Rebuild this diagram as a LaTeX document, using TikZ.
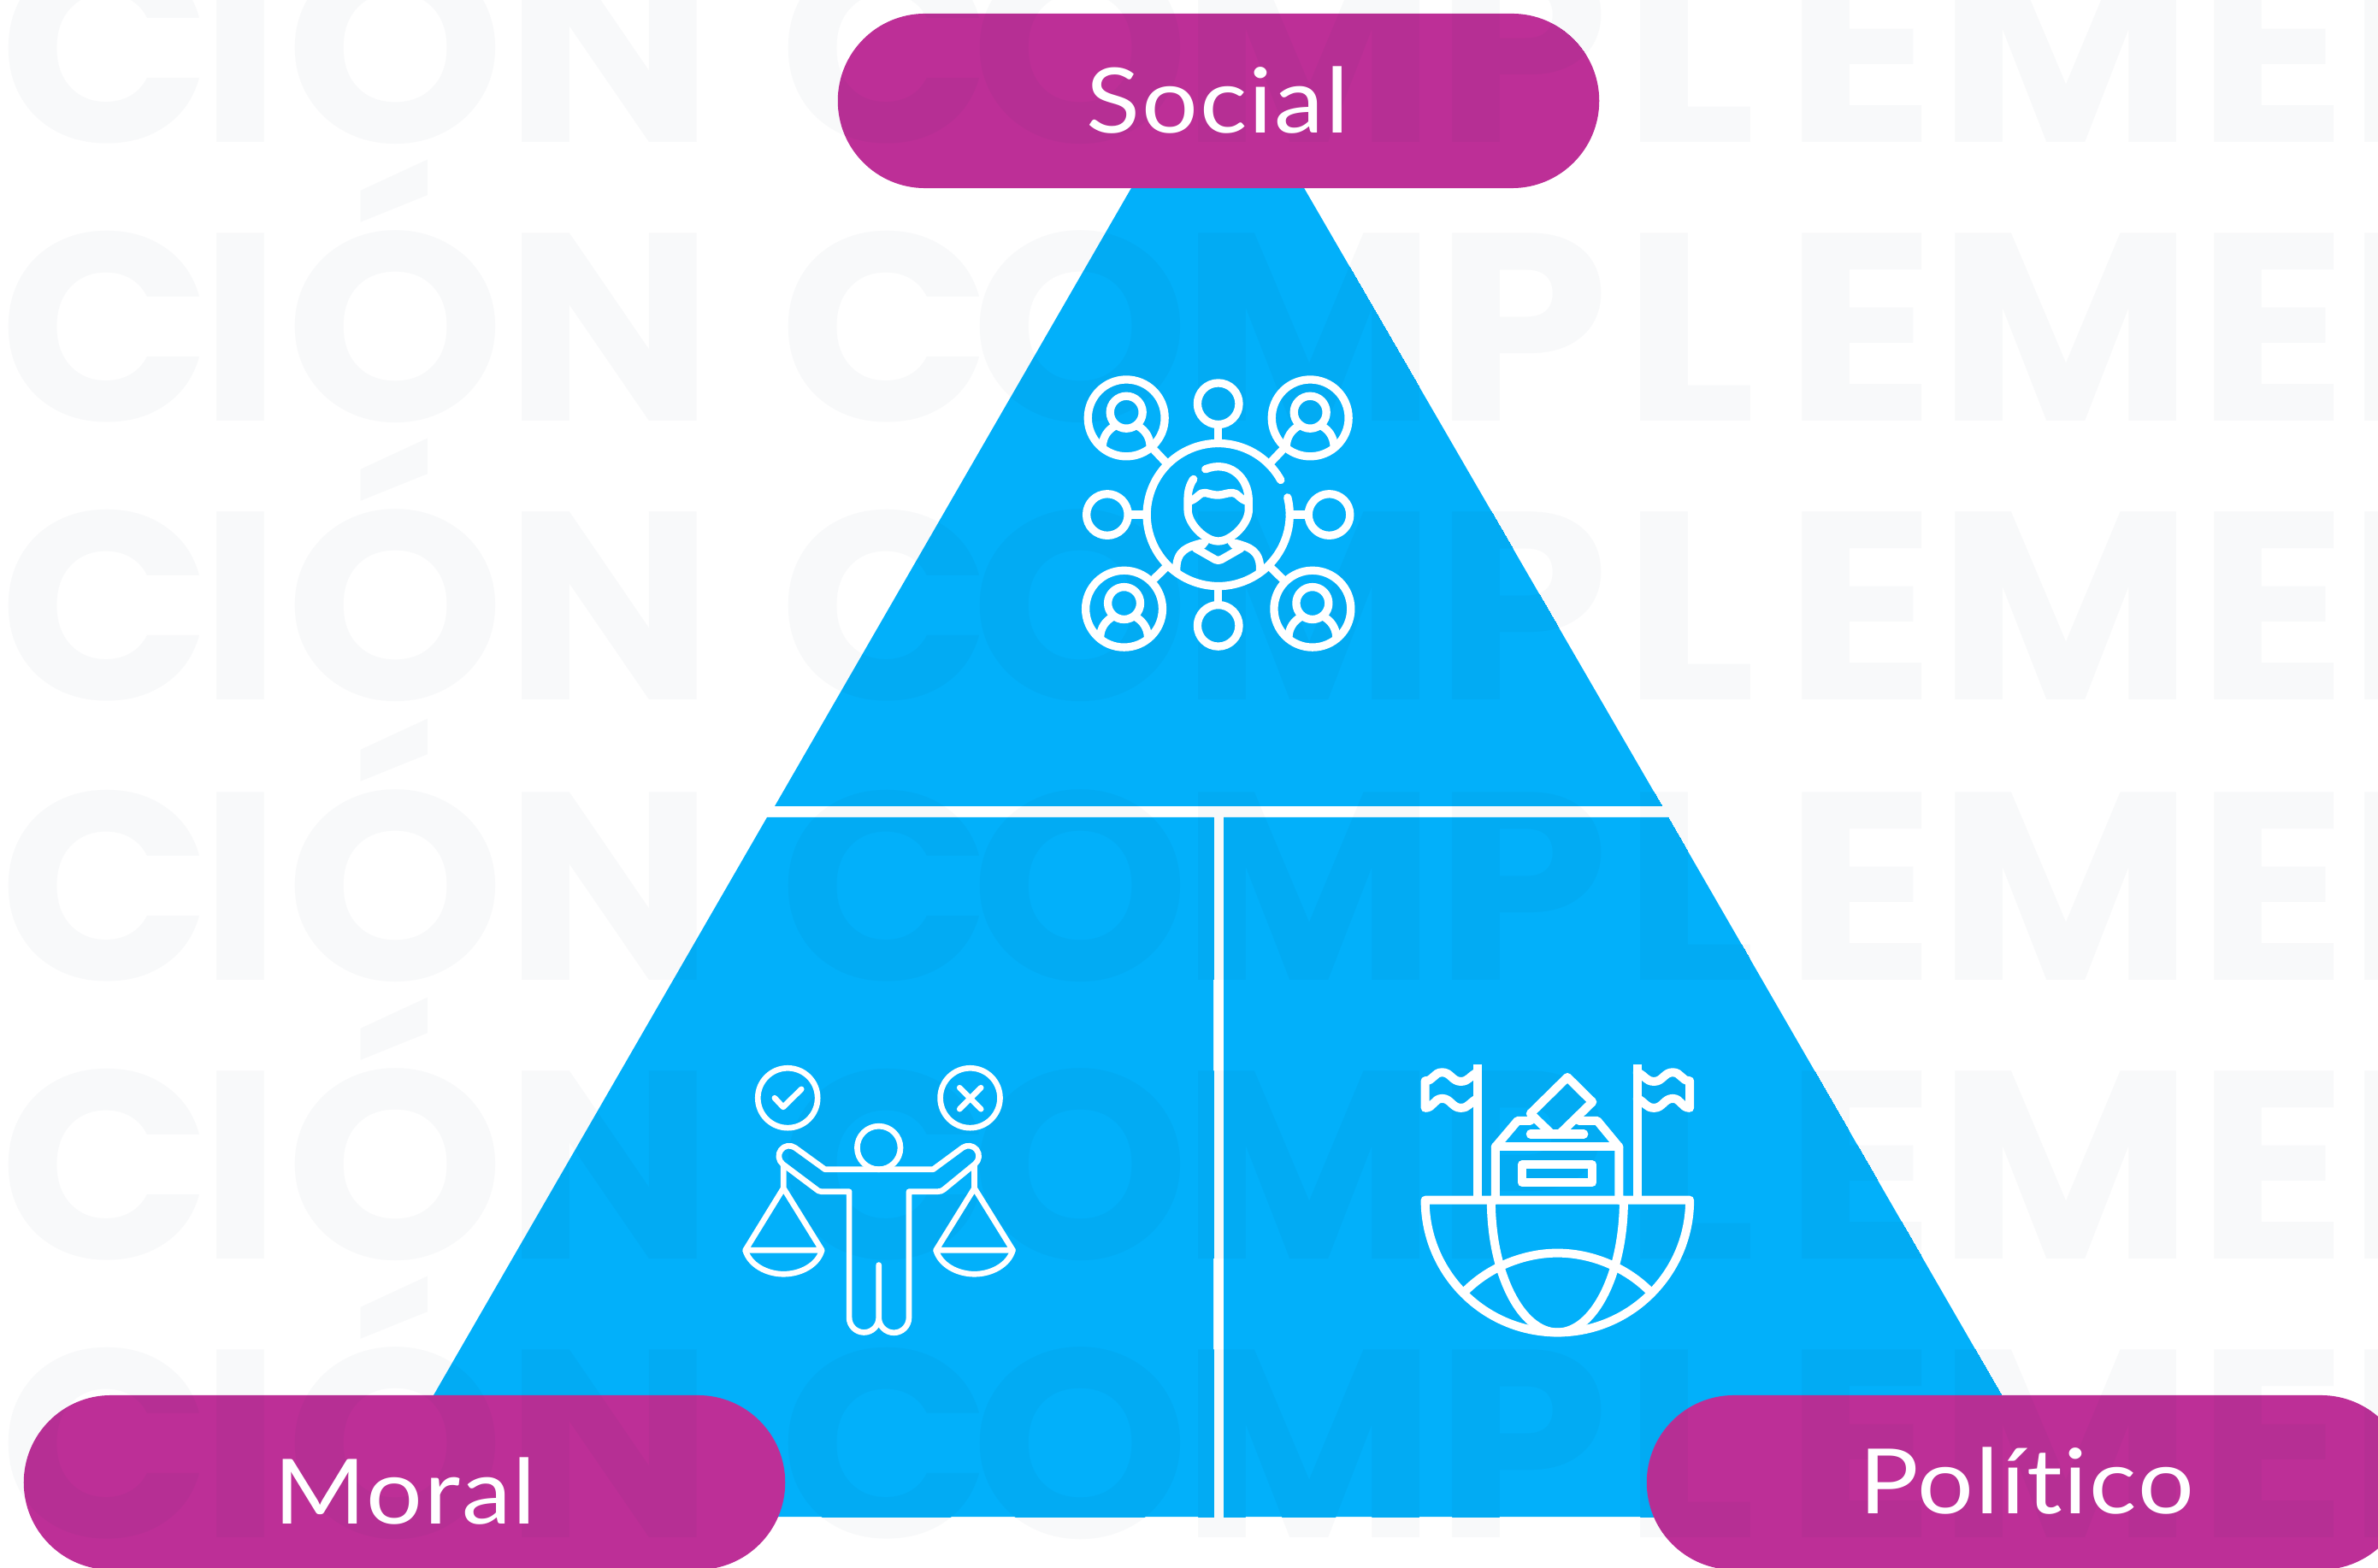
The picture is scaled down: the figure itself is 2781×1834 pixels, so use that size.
\documentclass[tikz,border=0pt]{standalone}
\usepackage{fontspec}
\usetikzlibrary{shapes.misc}
\newfontfamily\markfont{Poppins}[UprightFont=* Bold,FakeStretch=1.04]
\newfontfamily\pillfont{Lato}[LetterSpace=2,FakeStretch=1.1,Ligatures=NoCommon]
\definecolor{pageGray}{HTML}{F8F9FA}
\definecolor{skyBlue}{HTML}{02B0FA}
\definecolor{skyDark}{HTML}{02ABF3}
\definecolor{pillBase}{HTML}{BD2F97}
\definecolor{pillDark}{HTML}{B62F94}

\tikzset{
  pill/.style={rounded rectangle, minimum width=8.9cm, minimum height=2.04cm, inner sep=0pt, fill=pillBase},
  pilltext/.style={anchor=base, text=white, inner sep=0pt, font=\pillfont\fontsize{30}{30}\selectfont},
  marktext/.style={anchor=base west, inner sep=0pt, font=\markfont\fontsize{89}{89}\selectfont},
  iconline/.style={draw=white, line cap=round, line join=round},
  zoomed/.style={x=0.003333cm, y=-0.003333cm}
}
\newcommand{\markline}{RC\kern-4ptI\kern1.26ptÓN \kern2.27ptC\kern-7.06ptO\kern-2.77ptM\kern-.5ptP\kern4.8ptL\kern9.6ptE\kern.76ptM\kern1.26ptEN}
\newcommand{\markrows}[2]{
  \foreach \r/\ypos in {1/167,2/493,3/819,4/1146,5/1472,6/1798}
    \node[marktext, text=#2] (#1\r) at (-213,\ypos) {\markline};
}

\begin{document}
\begin{tikzpicture}[x=0.01cm, y=-0.01cm]
  \useasboundingbox (0,0) rectangle (2781,1834);
  \clip (0,0) rectangle (2781,1834);
  \fill[white] (0,0) rectangle (2781,1834);
  \markrows{back}{pageGray}

  % triangle
  \fill[skyBlue] (1334.5,200) -- (1513.5,200) -- (1944,943) -- (906,943) -- cycle;
  \fill[skyBlue] (897,956) -- (1419,956) -- (1419,1774) -- (425,1774) -- cycle;
  \fill[skyBlue] (1431,956) -- (1951,956) -- (2423,1774) -- (1431,1774) -- cycle;
  \begin{scope}
    \clip (1334.5,200) -- (1513.5,200) -- (1944,943) -- (906,943) -- cycle
      (897,956) -- (1419,956) -- (1419,1774) -- (425,1774) -- cycle
      (1431,956) -- (1951,956) -- (2423,1774) -- (1431,1774) -- cycle;
    \markrows{front}{skyDark}
  \end{scope}

  % people
  \begin{scope}[shift={(1240,420)}, zoomed, iconline, line width=2.65pt]
    \foreach \cx/\cy in {555/157,165/547,945/547,555/937}
      \draw (\cx,\cy) circle[radius=73];
    \foreach \cx/\cy in {232/207,878/207,224/878,886/878} {
      \begin{scope}[shift={(\cx,\cy)}]
        \draw (0,0) circle[radius=135];
        \draw (0,-20) circle[radius=57];
        \draw (-84,98) .. controls (-82,65) and (-65,43) .. (-42,29);
        \draw (84,98) .. controls (82,65) and (65,43) .. (42,29);
      \end{scope}
    }
    \draw (555,547) ++(-29:251) arc[start angle=-29, end angle=-374, radius=251];
    \draw (555,230) -- (555,296) (238,547) -- (304,547) (806,547) -- (872,547) (555,798) -- (555,864);
    \draw (330,320) -- (368,360) (780,320) -- (742,360) (330,772) -- (368,735) (780,772) -- (742,735);
    \draw (510,387) .. controls (590,355) and (662,410) .. (662,500) -- (662,530)
      .. controls (662,580) and (600,640) .. (555,640) .. controls (510,640) and (448,580) .. (448,530)
      -- (448,490) .. controls (448,465) and (455,440) .. (468,422);
    \draw (450,500) .. controls (480,495) and (490,465) .. (510,470) .. controls (530,475) and (540,478) .. (555,478)
      .. controls (570,478) and (585,470) .. (605,470) .. controls (625,470) and (630,495) .. (660,500);
    \draw (475,665) -- (545,705) .. controls (552,708) and (558,708) .. (565,705) -- (635,665);
    \draw (510,640) -- (498,655) (600,640) -- (612,655);
    \draw (495,647) .. controls (450,660) and (405,670) .. (408,745);
    \draw (615,647) .. controls (660,660) and (705,670) .. (702,745);
  \end{scope}

  % scales
  \begin{scope}[shift={(850,1220)}, zoomed, iconline, line width=1.9pt]
    \draw (214,193) circle[radius=105];
    \draw (855,193) circle[radius=105];
    \draw (168,193) -- (198,225) -- (262,162);
    \draw (818,157) -- (893,232) (893,157) -- (818,232);
    \draw (534,368) circle[radius=76];
    \draw (534,780) -- (534,965) arc[start angle=180, end angle=0, radius=53] -- (640,522) -- (740,522)
      .. controls (750,522) and (755,520) .. (762,515) -- (872,425) arc[start angle=51, end angle=-124, radius=36]
      -- (725,444) -- (345,444) -- (240,368) arc[start angle=-54, end angle=-232, radius=36]
      -- (312,512) .. controls (318,518) and (325,522) .. (332,522) -- (430,522) -- (430,965)
      arc[start angle=180, end angle=0, radius=52];
    \draw (199,430) -- (199,510) -- (65,728) -- (334,728) -- (199,510);
    \draw (65,728) .. controls (80,780) and (140,812) .. (199,812) .. controls (260,812) and (320,780) .. (334,728);
    \draw (870,430) -- (870,510) -- (735,728) -- (1005,728) -- (870,510);
    \draw (735,728) .. controls (750,780) and (810,812) .. (870,812) .. controls (930,812) and (990,780) .. (1005,728);
  \end{scope}

  % ballot
  \begin{scope}[shift={(1640,1220)}, zoomed, iconline, line width=2.85pt]
    \draw[line cap=butt] (265,75) -- (265,552) (825,75) -- (825,552);
    \draw (265,103) .. controls (235,115) and (235,135) .. (205,135) .. controls (175,135) and (170,103) .. (140,103)
      .. controls (110,103) and (110,133) .. (80,133) -- (80,228) .. controls (110,228) and (110,195) .. (140,195)
      .. controls (170,195) and (175,228) .. (205,228) .. controls (235,228) and (235,208) .. (265,195);
    \draw (825,103) .. controls (855,115) and (855,135) .. (885,135) .. controls (915,135) and (920,103) .. (950,103)
      .. controls (980,103) and (980,133) .. (1010,133) -- (1010,228) .. controls (980,228) and (980,195) .. (950,195)
      .. controls (920,195) and (915,228) .. (885,228) .. controls (855,228) and (855,208) .. (825,195);
    \draw (80,552) -- (1010,552) arc[start angle=0, end angle=180, radius=465] -- cycle;
    \draw (312,552) arc[x radius=233, y radius=465, start angle=180, end angle=0];
    \draw (225,868) .. controls (310,785) and (430,738) .. (545,738) .. controls (660,738) and (780,785) .. (865,868);
    \draw (327,552) -- (327,365) -- (405,273) -- (450,273);
    \draw (761,552) -- (761,365) -- (685,273) -- (620,273);
    \draw (327,365) -- (761,365);
    \draw (450,320) -- (638,320);
    \draw (525,320) -- (450,248) -- (580,120) -- (668,207) -- (552,320);
    \draw (420,428) rectangle (668,490);
  \end{scope}

  % labels
  \node[pill] (social) at (1425,118) {};
  \node[pill] (moral) at (473,1734) {};
  \node[pill] (politico) at (2371,1734) {};
  \begin{scope}
    \clip[rounded corners=1.02cm] (980,16) rectangle (1870,220)
      (28,1632) rectangle (918,1836) (1926,1632) rectangle (2816,1836);
    \markrows{over}{pillDark}
  \end{scope}
  \node[pilltext] (socialText) at (1424,156) {Social};
  \node[pilltext] (moralText) at (474,1782) {Moral};
  \node[pilltext] (politicoText) at (2370,1770) {Político};
\end{tikzpicture}
\end{document}
